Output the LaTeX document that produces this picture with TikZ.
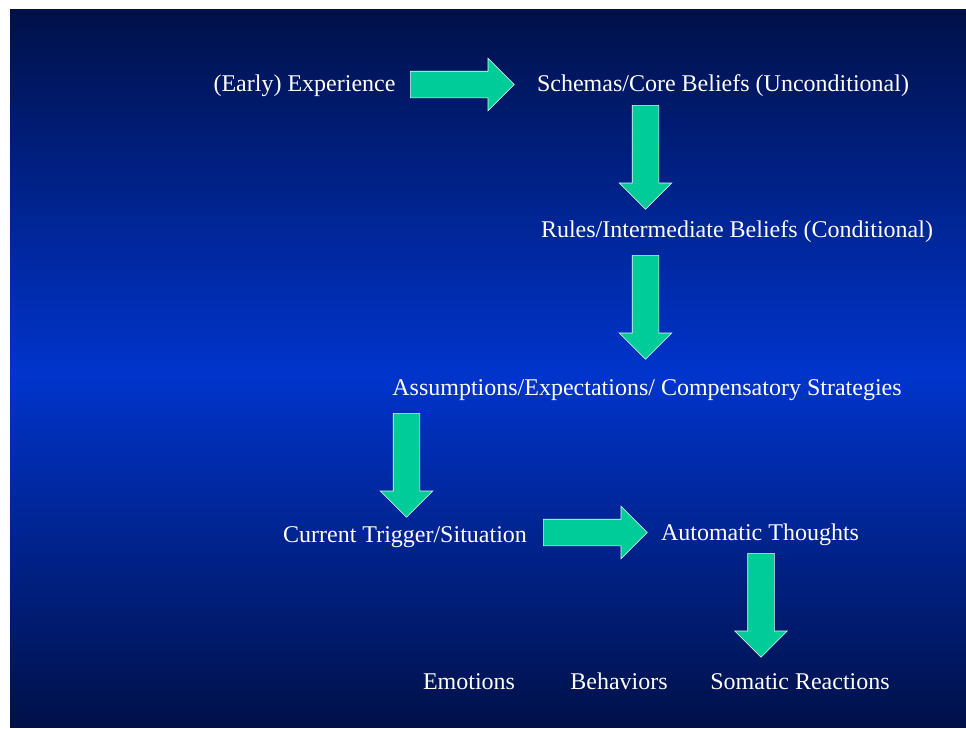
\documentclass[tikz,border=0pt]{standalone}
\usepackage{fontspec}
\setmainfont{Liberation Serif}
\usetikzlibrary{shapes.arrows, positioning}

\definecolor{bgdark}{RGB}{0,16,72}
\definecolor{bgmid}{RGB}{0,52,204}
\definecolor{arrowgreen}{RGB}{0,204,153}

\begin{document}
\begin{tikzpicture}[
    x=1pt, y=-1pt,
    label/.style={text=white, anchor=base, inner sep=0pt, font=\fontsize{24}{28}\selectfont},
    blockarrow/.style={single arrow, draw=white!90!gray, line width=0.6pt, fill=arrowgreen,
        inner xsep=0pt, inner ysep=13pt, single arrow head extend=13pt,
        minimum height=104pt, anchor=tail}
]
% page and background
\useasboundingbox (0,0) rectangle (966,728);
\fill[white] (0,0) rectangle (966,728);
\shade[top color=bgdark, bottom color=bgmid] (10,9) rectangle (966,375);
\shade[top color=bgmid, bottom color=bgdark] (10,374.5) rectangle (966,727);

% texts
\node[label] (early) at (304.5,91) {(Early) Experience};
\node[label] (schemas) at (723,91) {Schemas/Core Beliefs (Unconditional)};
\node[label] (rules) at (737,237) {Rules/Intermediate Beliefs (Conditional)};
\node[label] (assume) at (647,395) {Assumptions/Expectations/ Compensatory Strategies};
\node[label] (trigger) at (405,542) {Current Trigger/Situation};
\node[label] (auto) at (760,540) {Automatic Thoughts};
\node[label] (emot) at (469,689) {Emotions};
\node[label] (behav) at (619,689) {Behaviors};
\node[label] (somat) at (800,689) {Somatic Reactions};

% block arrows (placed by their tails)
\node[blockarrow] (a1) at (410,84.5) {};
\node[blockarrow, rotate=-90] (a2) at (645.5,105) {};
\node[blockarrow, rotate=-90] (a3) at (645.5,255) {};
\node[blockarrow, rotate=-90] (a4) at (406.5,413) {};
\node[blockarrow] (a5) at (543,532.5) {};
\node[blockarrow, rotate=-90] (a6) at (761,553) {};
\end{tikzpicture}
\end{document}
